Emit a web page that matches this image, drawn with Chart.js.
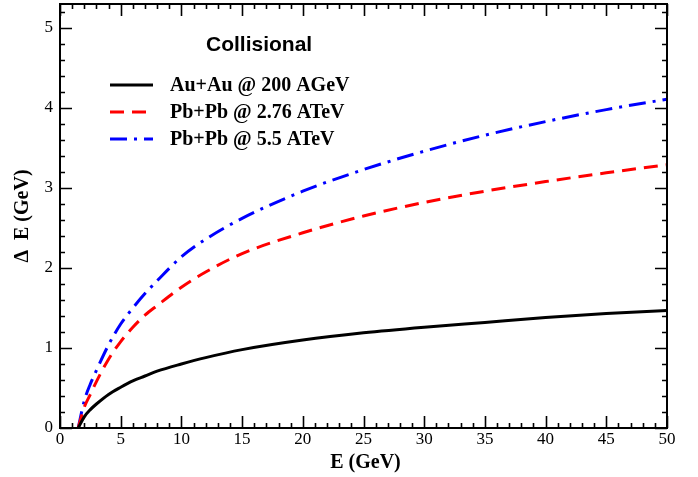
<!DOCTYPE html>
<html>
<head>
<meta charset="utf-8">
<script src="https://cdn.jsdelivr.net/npm/chart.js@4/dist/chart.umd.min.js"></script>
<style>
  html, body { margin: 0; padding: 0; background: #fff; }
  #wrap { width: 698px; height: 477px; }
</style>
</head>
<body>
<div id="wrap"><canvas id="c" width="698" height="477"></canvas></div>
<script>
// Jet energy E (GeV) at which the collisional loss was evaluated
const energy = [1.5, 2, 2.5, 3, 4, 5, 6, 7, 8, 10, 12, 15, 20, 25, 30, 35, 40, 45, 50];
// Collisional energy loss Delta E (GeV)
const auAu200 = [0, 0.14, 0.23, 0.30, 0.42, 0.51, 0.59, 0.65, 0.71, 0.80, 0.88, 0.98, 1.10, 1.19, 1.26, 1.32, 1.38, 1.43, 1.47];
const pbPb276 = [0, 0.26, 0.42, 0.58, 0.86, 1.08, 1.26, 1.41, 1.53, 1.76, 1.95, 2.18, 2.44, 2.65, 2.82, 2.96, 3.08, 3.19, 3.29];
const pbPb55  = [0, 0.34, 0.55, 0.72, 1.04, 1.30, 1.50, 1.68, 1.84, 2.14, 2.36, 2.62, 2.96, 3.23, 3.46, 3.66, 3.83, 3.98, 4.11];

const seriesNames = ['Au+Au @ 200 AGeV', 'Pb+Pb @ 2.76 ATeV', 'Pb+Pb @ 5.5 ATeV'];
const xTickLabels = [0, 5, 10, 15, 20, 25, 30, 35, 40, 45, 50];
const yTickLabels = [0, 1, 2, 3, 4, 5];
const legendTitle = 'Collisional';
const xTitle = 'E (GeV)';
const yTitle = '\u0394  E (GeV)';

const pts = vals => energy.map((e, i) => ({ x: e, y: vals[i] }));

const styles = [
  { color: '#000000', dash: [] },
  { color: '#ff0000', dash: [14, 8] },
  { color: '#0000ff', dash: [17, 7, 3, 7] }
];
const seriesVals = [auAu200, pbPb276, pbPb55];

const datasets = seriesVals.map((v, i) => ({
  label: seriesNames[i],
  data: pts(v),
  borderColor: styles[i].color,
  borderDash: styles[i].dash,
  borderWidth: 3,
  pointRadius: 0,
  fill: false,
  cubicInterpolationMode: 'monotone'
}));

const serif = '"Liberation Serif", "Times New Roman", serif';
const sans = '"Liberation Sans", Arial, sans-serif';

// Frame with inward tick marks on all four sides, axis titles and legend
const decor = {
  id: 'decor',
  afterDraw(chart) {
    const ctx = chart.ctx;
    const a = chart.chartArea;
    const xs = chart.scales.x, ys = chart.scales.y;
    ctx.save();
    ctx.strokeStyle = '#000';
    ctx.lineWidth = 2;
    ctx.strokeRect(a.left, a.top, a.right - a.left, a.bottom - a.top);

    ctx.lineWidth = 1.6;
    ctx.beginPath();
    for (let v = 0; v <= 50; v += 1) {
      const px = Math.round(xs.getPixelForValue(v)) + 0.5;
      const len = v % 5 === 0 ? 12 : 5;
      ctx.moveTo(px, a.bottom); ctx.lineTo(px, a.bottom - len);
      ctx.moveTo(px, a.top); ctx.lineTo(px, a.top + len);
    }
    for (let k = 0; k <= 26; k++) {
      const v = k * 0.2;
      const py = Math.round(ys.getPixelForValue(v)) + 0.5;
      const len = k % 5 === 0 ? 12 : 5;
      ctx.moveTo(a.left, py); ctx.lineTo(a.left + len, py);
      ctx.moveTo(a.right, py); ctx.lineTo(a.right - len, py);
    }
    ctx.stroke();

    // axis titles
    ctx.fillStyle = '#000';
    ctx.font = 'bold 20px ' + serif;
    ctx.textAlign = 'center';
    ctx.textBaseline = 'middle';
    ctx.fillText(xTitle, (a.left + a.right) / 2 + 2, 463);
    ctx.save();
    ctx.translate(23, (a.top + a.bottom) / 2);
    ctx.rotate(-Math.PI / 2);
    ctx.fillText(yTitle, 0, 0);
    ctx.restore();

    // legend
    ctx.font = 'bold 21px ' + sans;
    ctx.textAlign = 'left';
    ctx.fillText(legendTitle, 206, 45);
    ctx.font = 'bold 20px ' + serif;
    const rows = [85, 112, 139];
    rows.forEach((y, i) => {
      ctx.save();
      ctx.strokeStyle = styles[i].color;
      ctx.lineWidth = 3;
      ctx.setLineDash(styles[i].dash);
      ctx.beginPath();
      ctx.moveTo(110, y); ctx.lineTo(153, y);
      ctx.stroke();
      ctx.restore();
      ctx.fillText(seriesNames[i], 170, y + 1);
    });
    ctx.restore();
  }
};

new Chart(document.getElementById('c'), {
  type: 'line',
  data: { datasets },
  options: {
    responsive: false,
    animation: false,
    layout: { padding: { left: 0, top: 4, right: 31, bottom: 0 } },
    plugins: { legend: { display: false }, tooltip: { enabled: false } },
    scales: {
      x: {
        type: 'linear',
        min: 0, max: 50,
        grid: { display: false, drawTicks: false },
        border: { display: false },
        afterBuildTicks: s => { s.ticks = xTickLabels.map(v => ({ value: v })); },
        afterFit: s => { s.height = 49; s.paddingLeft = 0; s.paddingRight = 0; },
        ticks: { padding: 1, color: '#000', font: { family: serif, size: 17 }, maxRotation: 0 }
      },
      y: {
        type: 'linear',
        min: 0, max: 5.3,
        grid: { display: false, drawTicks: false },
        border: { display: false },
        afterBuildTicks: s => { s.ticks = yTickLabels.map(v => ({ value: v })); },
        afterFit: s => { s.width = 60; s.paddingTop = 0; s.paddingBottom = 0; },
        ticks: { padding: 7, color: '#000', font: { family: serif, size: 17 } }
      }
    }
  },
  plugins: [decor]
});
</script>
</body>
</html>
